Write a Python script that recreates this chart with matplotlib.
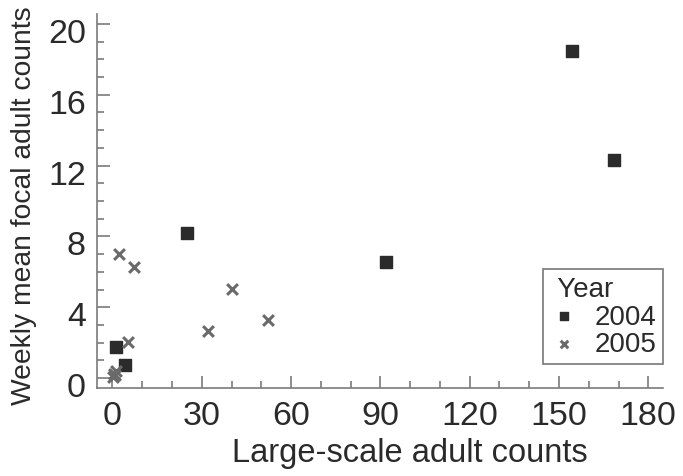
import matplotlib
matplotlib.use("Agg")
import matplotlib.pyplot as plt
import matplotlib.transforms as mtransforms
from matplotlib.ticker import MultipleLocator

plt.rcParams["font.family"] = ["Liberation Sans", "DejaVu Sans"]

# 2004 (squares)
x_2004 = [154.4, 168.6, 25.1, 91.8, 1.2, 4.2]
y_2004 = [18.5, 12.3, 8.2, 6.55, 1.77, 0.75]

# 2005 (crosses)
x_2005 = [2.2, 7.2, 40.0, 52.3, 32.2, 5.1, 0.3, 0.8, 1.2, 0.5]
y_2005 = [7.0, 6.25, 5.03, 3.3, 2.64, 2.05, 0.05, 0.15, 0.4, 0.25]

xticks = [0, 30, 60, 90, 120, 150, 180]
yticks = [0, 4, 8, 12, 16, 20]

axis_grey = "#7a7a7a"
text_col = "#2a2a2a"

fig = plt.figure(figsize=(6.83, 4.77), dpi=100)
ax = fig.add_axes([0.142, 0.1845, 0.829, 0.784])

ax.scatter(x_2004, y_2004, marker="s", s=85, color="#2b2b2b", label="2004", zorder=3)
ax.scatter(x_2005, y_2005, marker="x", s=60, color="#6a6a6a", linewidths=2.2,
           label="2005", zorder=3)

ax.set_xlim(-5.2, 185)
ax.set_ylim(-0.56, 20.56)
ax.set_xticks(xticks)
ax.set_yticks(yticks)
ax.xaxis.set_minor_locator(MultipleLocator(10))
ax.yaxis.set_minor_locator(MultipleLocator(1))

for side in ["top", "right"]:
    ax.spines[side].set_visible(False)
for side in ["left", "bottom"]:
    ax.spines[side].set_color(axis_grey)
    ax.spines[side].set_linewidth(1.2)

ax.tick_params(which="both", direction="in", color=axis_grey, width=1.2,
               labelsize=24.5, labelcolor=text_col)
ax.tick_params(which="major", length=9)
ax.tick_params(which="minor", length=5)
ax.tick_params(axis="x", which="major", pad=9)
ax.tick_params(axis="y", which="major", pad=8)

# y tick labels sit a little below their ticks in the original
shift = mtransforms.ScaledTranslation(0, -6 / 100, fig.dpi_scale_trans)
for lbl in ax.get_yticklabels():
    lbl.set_transform(lbl.get_transform() + shift)

ax.set_xlabel("Large-scale adult counts", fontsize=23.5, color=text_col)
ax.xaxis.set_label_coords(0.553, -0.13)
ax.set_ylabel("Weekly mean focal adult counts", fontsize=20.3, color=text_col)
ax.yaxis.set_label_coords(-0.106, 0.49)

leg = ax.legend(title=" Year", loc="lower right", bbox_to_anchor=(1.0, 0.064),
                borderaxespad=0, fontsize=20, title_fontsize=20, frameon=True,
                fancybox=False, handletextpad=0.6, handlelength=1.0,
                borderpad=0.25, labelspacing=0.05, markerscale=0.7,
                alignment="left")
leg.get_frame().set_edgecolor("#555555")
leg.get_frame().set_linewidth(1.2)
for t in leg.get_texts():
    t.set_color(text_col)
leg.get_title().set_color(text_col)

fig.savefig("out.png", dpi=100)
